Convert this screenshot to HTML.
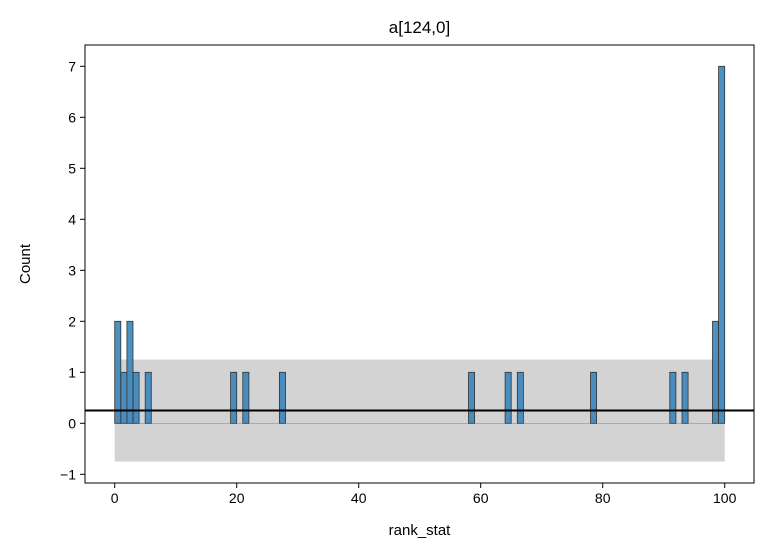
<!DOCTYPE html>
<html><head><meta charset="utf-8"><style>
body{margin:0;background:#fff;}
text{font-family:"Liberation Sans","DejaVu Sans",sans-serif;fill:#000;}
</style></head><body>
<svg id="chart" width="768" height="555" xmlns="http://www.w3.org/2000/svg">
<rect width="768" height="555" fill="#fff"/>
<g id="plot"></g>
</svg>
<script>
const binStarts = [0,1,2,3,5,19,21,27,58,64,66,78,91,93,98,99];
const counts    = [2,1,2,1,1,1,1,1,1,1,1,1,1,1,2,7];
const xTicks = [0,20,40,60,80,100];
const yTicks = [-1,0,1,2,3,4,5,6,7];
const bandLow = -0.75, bandHigh = 1.25, refLine = 0.25;
const binWidth = 1, xMin = 0, xMax = 100;

const L=85,R=754,T=45,B=483;
const X=v=>114.7+v*6.1;
const Y=v=>423.3-v*51;
const NS="http://www.w3.org/2000/svg";
const g=document.getElementById('plot');
function mk(tag,attrs,parent){const e=document.createElementNS(NS,tag);for(const k in attrs)e.setAttribute(k,attrs[k]);(parent||g).appendChild(e);return e;}

const band=mk('rect',{x:X(xMin),y:Y(bandHigh),width:X(xMax)-X(xMin),height:Y(bandLow)-Y(bandHigh),fill:'#d3d3d3'});



const base=mk('line',{x1:X(xMin),x2:X(xMax),y1:Y(0),y2:Y(0),stroke:'#555','stroke-width':0.6,'stroke-opacity':0.5});



binStarts.forEach((s,i)=>{
  const r=mk('rect',{x:X(s),y:Y(counts[i]),width:X(s+binWidth)-X(s),height:Y(0)-Y(counts[i]),fill:'#3a84bb','fill-opacity':0.9,stroke:'#333','stroke-width':0.8});
  
  
});

const hl=mk('line',{x1:L,x2:R,y1:Y(refLine),y2:Y(refLine),stroke:'#000','stroke-width':2});



const frame=mk('rect',{x:L,y:T,width:R-L,height:B-T,fill:'none',stroke:'#000','stroke-width':1});



xTicks.forEach(v=>{
  const t=mk('line',{x1:X(v),x2:X(v),y1:B,y2:B+5,stroke:'#000'});
  
  
  const l=mk('text',{x:X(v),y:B+20,'text-anchor':'middle','font-size':14});
  l.textContent=v;
  
  
});
yTicks.forEach(v=>{
  const t=mk('line',{x1:L-5,x2:L,y1:Y(v),y2:Y(v),stroke:'#000'});
  
  
  const l=mk('text',{x:L-9,y:Y(v)+5,'text-anchor':'end','font-size':14});
  l.textContent=v<0?'\u2212'+(-v):v;
  
  
});
const xt=mk('text',{x:(L+R)/2,y:535,'text-anchor':'middle','font-size':15});
xt.textContent='rank_stat';


const yt=mk('text',{x:30,y:(T+B)/2,'text-anchor':'middle','font-size':15,transform:'rotate(-90 30 '+((T+B)/2)+')'});
yt.textContent='Count';


const tt=mk('text',{x:(L+R)/2,y:33,'text-anchor':'middle','font-size':17});
tt.textContent='a[124,0]';


</script>
</body></html>
